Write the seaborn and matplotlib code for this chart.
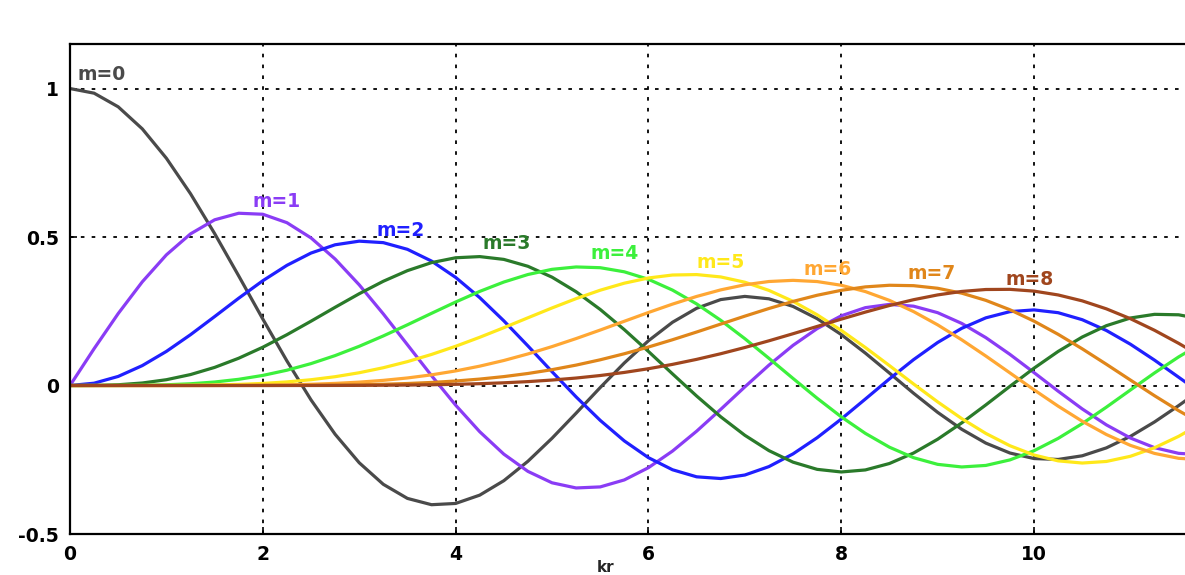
import matplotlib
matplotlib.use("Agg")
import matplotlib.pyplot as plt
import seaborn as sns
import pandas as pd

# Bessel functions of the first kind J_m(kr), sampled every 0.25 in kr
kr = [0.0, 0.25, 0.5, 0.75, 1.0, 1.25, 1.5, 1.75, 2.0, 2.25, 2.5, 2.75,
      3.0, 3.25, 3.5, 3.75, 4.0, 4.25, 4.5, 4.75, 5.0, 5.25, 5.5, 5.75,
      6.0, 6.25, 6.5, 6.75, 7.0, 7.25, 7.5, 7.75, 8.0, 8.25, 8.5, 8.75,
      9.0, 9.25, 9.5, 9.75, 10.0, 10.25, 10.5, 10.75, 11.0, 11.25, 11.5,
      11.75, 12.0]

j0 = [1.0, 0.98438, 0.93847, 0.86420, 0.76520, 0.64588, 0.51183, 0.36903,
      0.22389, 0.08278, -0.04838, -0.16409, -0.26005, -0.33270, -0.38013,
      -0.40135, -0.39715, -0.36916, -0.32054, -0.25510, -0.17760, -0.09309,
      -0.00684, 0.07595, 0.15065, 0.21305, 0.26009, 0.28941, 0.30008,
      0.29196, 0.26634, 0.22521, 0.17165, 0.10920, 0.04194, -0.02593,
      -0.09033, -0.14738, -0.19393, -0.22730, -0.24594, -0.24894, -0.23664,
      -0.21004, -0.17119, -0.12265, -0.06765, -0.00967, 0.04769]
j1 = [0.0, 0.12401, 0.24227, 0.34921, 0.44005, 0.51058, 0.55794, 0.58010,
      0.57672, 0.54833, 0.49709, 0.42594, 0.33906, 0.24111, 0.13738,
      0.03325, -0.06604, -0.15552, -0.23106, -0.28914, -0.32758, -0.34497,
      -0.34144, -0.31791, -0.27668, -0.22070, -0.15384, -0.08032, -0.00468,
      0.06856, 0.13524, 0.19156, 0.23464, 0.26216, 0.27312, 0.26718,
      0.24531, 0.20912, 0.16126, 0.10483, 0.04347, -0.01901, -0.07885,
      -0.13245, -0.17679, -0.20931, -0.22842, -0.23307, -0.22345]
j2 = [0.0, 0.00781, 0.03060, 0.06710, 0.11490, 0.17111, 0.23209, 0.29400,
      0.35283, 0.40467, 0.44605, 0.47390, 0.48609, 0.48109, 0.45863,
      0.41909, 0.36413, 0.29598, 0.21785, 0.13336, 0.04657, -0.03834,
      -0.11732, -0.18654, -0.24287, -0.28368, -0.30743, -0.31322, -0.30142,
      -0.27305, -0.23028, -0.17577, -0.11299, -0.04565, 0.02232, 0.08701,
      0.14485, 0.19261, 0.22788, 0.24880, 0.25463, 0.24523, 0.22162,
      0.18540, 0.13905, 0.08544, 0.02793, -0.03000, -0.08493]
j3 = [0.0, 0.00033, 0.00256, 0.00848, 0.01956, 0.03688, 0.06097, 0.09188,
      0.12894, 0.17109, 0.21659, 0.26339, 0.30906, 0.35104, 0.38677,
      0.41382, 0.43017, 0.43411, 0.42470, 0.40146, 0.36483, 0.31577,
      0.25612, 0.18815, 0.11477, 0.03914, -0.03535, -0.10530, -0.16756,
      -0.21922, -0.25806, -0.28230, -0.29113, -0.28430, -0.26262, -0.22741,
      -0.18094, -0.12583, -0.06531, -0.00275, 0.05838, 0.11471, 0.16328,
      0.20143, 0.22734, 0.23969, 0.23814, 0.22286, 0.19514]
j4 = [0.0, 0.00001, 0.00016, 0.00080, 0.00248, 0.00588, 0.01177, 0.02091,
      0.03400, 0.05154, 0.07377, 0.10075, 0.13203, 0.16696, 0.20440,
      0.24302, 0.28113, 0.31690, 0.34842, 0.37377, 0.39123, 0.39924,
      0.39672, 0.38288, 0.35764, 0.32127, 0.27480, 0.21963, 0.15780,
      0.09163, 0.02383, -0.04279, -0.10536, -0.16113, -0.20770, -0.24296,
      -0.26547, -0.27424, -0.26913, -0.25050, -0.21960, -0.17808, -0.12832,
      -0.07297, -0.01504, 0.04240, 0.09632, 0.14381, 0.18250]
j5 = [0.0, 0.0, 0.00001, 0.00006, 0.00025, 0.00074, 0.00180, 0.00376,
      0.00704, 0.01213, 0.01950, 0.02967, 0.04303, 0.05991, 0.08043,
      0.10460, 0.13209, 0.16240, 0.19471, 0.22805, 0.26114, 0.29261,
      0.32093, 0.34458, 0.36209, 0.37211, 0.37357, 0.36562, 0.34790,
      0.32034, 0.28348, 0.23815, 0.18577, 0.12806, 0.06714, 0.00528,
      -0.05504, -0.11135, -0.16133, -0.20280, -0.23406, -0.25372, -0.26105,
      -0.25575, -0.23829, -0.20956, -0.17114, -0.12495, -0.07347]
j6 = [0.0, 0.0, 0.0, 0.0, 0.00002, 0.00008, 0.00023, 0.00056,
      0.00120, 0.00235, 0.00422, 0.00713, 0.01139, 0.01738, 0.02544,
      0.03591, 0.04909, 0.06519, 0.08427, 0.10631, 0.13105, 0.15809,
      0.18679, 0.21637, 0.24584, 0.27410, 0.29992, 0.32203, 0.33920,
      0.35023, 0.35414, 0.35008, 0.33758, 0.31637, 0.28669, 0.24901,
      0.20432, 0.15387, 0.09931, 0.04251, -0.01446, -0.06945, -0.12030,
      -0.16494, -0.20158, -0.22868, -0.24514, -0.25016, -0.24372]
j7 = [0.0, 0.0, 0.0, 0.0, 0.0, 0.00001, 0.00003, 0.00008,
      0.00017, 0.00039, 0.00078, 0.00145, 0.00255, 0.00424, 0.00674,
      0.01030, 0.01518, 0.02166, 0.03001, 0.04052, 0.05338, 0.06873,
      0.08661, 0.10697, 0.12959, 0.15416, 0.18013, 0.20688, 0.23358,
      0.25934, 0.28314, 0.30392, 0.32059, 0.33212, 0.33760, 0.33622,
      0.32746, 0.31097, 0.28678, 0.25513, 0.21671, 0.17242, 0.12356,
      0.07163, 0.01838, -0.03437, -0.08466, -0.13053, -0.17025]
j8 = [0.0, 0.0, 0.0, 0.0, 0.0, 0.0, 0.0, 0.00001,
      0.00002, 0.00005, 0.00012, 0.00026, 0.00049, 0.00090, 0.00154,
      0.00254, 0.00403, 0.00616, 0.00913, 0.01314, 0.01841, 0.02518,
      0.03367, 0.04406, 0.05653, 0.07119, 0.08805, 0.10704, 0.12797,
      0.15057, 0.17439, 0.19892, 0.22345, 0.24722, 0.26936, 0.28895,
      0.30507, 0.31681, 0.32332, 0.32384, 0.31785, 0.30495, 0.28505,
      0.25824, 0.22497, 0.18592, 0.14208, 0.09464, 0.04510]

orders = ["m=0", "m=1", "m=2", "m=3", "m=4", "m=5", "m=6", "m=7", "m=8"]
series = [j0, j1, j2, j3, j4, j5, j6, j7, j8]

# label anchor (kr, J) for each curve name
label_x = [0.08, 1.89, 3.18, 4.28, 5.40, 6.50, 7.61, 8.69, 9.70]
label_y = [1.047, 0.62, 0.522, 0.478, 0.444, 0.414, 0.39, 0.377, 0.357]

colors = ["#4a4a4a", "#8a3cf5", "#2020ff", "#2a7a2a", "#3cf03c",
          "#ffe81a", "#ffa733", "#e0861a", "#a0461e"]

df = pd.concat(
    [pd.DataFrame({"kr": kr, "J": vals, "m": name})
     for name, vals in zip(orders, series)],
    ignore_index=True,
)

sns.set_style("white")
plt.rcParams["font.family"] = ["DejaVu Sans"]

fig = plt.figure(figsize=(11.85, 5.75), dpi=100)
ax = fig.add_axes([70 / 1185, 1 - 534 / 575, 1 - 70 / 1185, (534 - 44) / 575])

ax.set_axisbelow(True)
ax.grid(True, color="black", linestyle=(0, (2, 4)), linewidth=1.3)

sns.lineplot(data=df, x="kr", y="J", hue="m", hue_order=orders,
             palette=dict(zip(orders, colors)), linewidth=2.3,
             legend=False, sort=False, ax=ax)

for name, x, y, c in zip(orders, label_x, label_y, colors):
    ax.text(x, y, name, color=c, fontsize=13.5, fontweight="bold",
            ha="left", va="center")

ax.set_xlim(0, 11.566)
ax.set_ylim(-0.5, 1.15)
ax.set_xticks([0, 2, 4, 6, 8, 10])
ax.set_yticks([-0.5, 0, 0.5, 1])
ax.set_xticklabels(["0", "2", "4", "6", "8", "10"])
ax.set_yticklabels(["-0.5", "0", "0.5", "1"])
ax.tick_params(direction="in", length=5, width=1.2, labelsize=13.5, pad=8,
               bottom=True, left=True, colors="black")
for lab in ax.get_xticklabels() + ax.get_yticklabels():
    lab.set_fontweight("bold")

ax.set_xlabel("kr", fontsize=11, fontweight="bold")
ax.xaxis.set_label_coords(0.48, -0.054)
ax.set_ylabel("")

for side in ["left", "bottom", "top"]:
    ax.spines[side].set_visible(True)
    ax.spines[side].set_color("black")
    ax.spines[side].set_linewidth(1.6)
ax.spines["right"].set_visible(False)

fig.savefig("out.png", dpi=100, facecolor="white")
